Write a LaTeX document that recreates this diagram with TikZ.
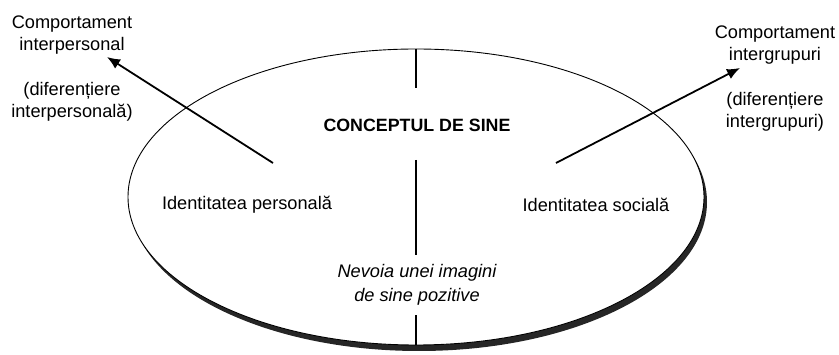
\documentclass[tikz,border=0pt]{standalone}
\usepackage{fontspec}
\setmainfont{Liberation Sans}
\usetikzlibrary{arrows.meta,shapes.geometric}
\begin{document}
\begin{tikzpicture}[x=1pt,y=-1pt,
  lbl/.style={font=\fontsize{18.2}{22.5}\selectfont, align=center, inner sep=0pt},
  arr/.style={line width=1.8pt, -{Latex[length=13pt,width=11pt]}}]
\useasboundingbox (0,0) rectangle (839,355);

% shadow, then the self-concept ellipse
\fill[black!85] (419,202) ellipse [x radius=288pt, y radius=149pt];
\node[draw, line width=0.9pt, fill=white, ellipse, inner sep=0pt,
      minimum width=576pt, minimum height=296pt] (sine) at (416,197) {};

\draw[line width=1.2pt] (sine.north) -- ++(0,39);
\draw[line width=1.2pt] (416,160) -- (416,255);
\draw[line width=1.2pt] (sine.south) -- ++(0,-30);

\node[lbl, font=\fontsize{17.8}{22.5}\selectfont\bfseries] (concept) at (417,125) {CONCEPTUL DE SINE};
\node[lbl] (pers) at (247,205) {Identitatea personală};
\node[lbl] (soc) at (596,205) {Identitatea socială};
\node[lbl, font=\fontsize{18.2}{24}\selectfont\itshape] (nevoia) at (417,285) {Nevoia unei imagini\\de sine pozitive};

\node[lbl] (compL) at (72,35) {Comportament\\interpersonal};
\node[lbl] (difL) at (72,102) {(diferențiere\\interpersonală)};
\node[lbl] (compR) at (775,45) {Comportament\\intergrupuri};
\node[lbl] (difR) at (775,112) {(diferențiere\\intergrupuri)};

% arrows out of the ellipse
\coordinate (tailL) at (273,163);
\coordinate (tipL) at (107,57);
\coordinate (tailR) at (556,163);
\coordinate (tipR) at (740,68);
\draw[arr] (tailL) -- (tipL);
\draw[arr] (tailR) -- (tipR);
\end{tikzpicture}
\end{document}
